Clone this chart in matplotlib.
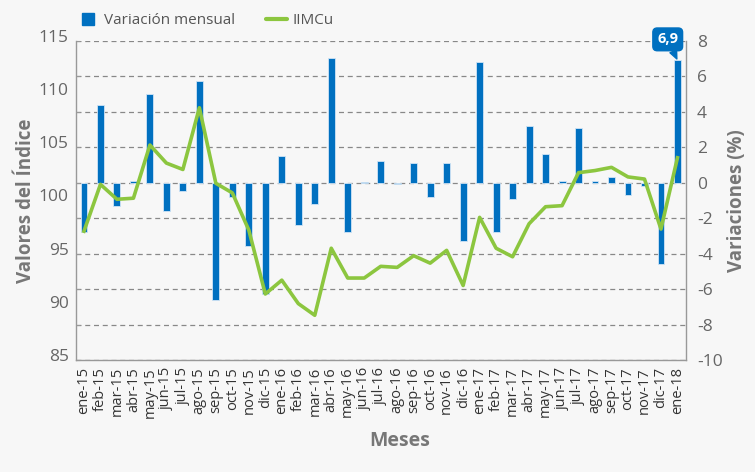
import matplotlib
matplotlib.use("Agg")
import matplotlib.pyplot as plt
import matplotlib.transforms as mtransforms
from matplotlib.lines import Line2D
import numpy as np

plt.rcParams['font.family'] = ['Open Sans', 'DejaVu Sans']

meses = ["ene-15", "feb-15", "mar-15", "abr-15", "may-15", "jun-15", "jul-15", "ago-15",
         "sep-15", "oct-15", "nov-15", "dic-15", "ene-16", "feb-16", "mar-16", "abr-16",
         "may-16", "jun-16", "jul-16", "ago-16", "sep-16", "oct-16", "nov-16", "dic-16",
         "ene-17", "feb-17", "mar-17", "abr-17", "may-17", "jun-17", "jul-17", "ago-17",
         "sep-17", "oct-17", "nov-17", "dic-17", "ene-18"]

variacion = [-2.8, 4.4, -1.3, 0.1, 5.0, -1.6, -0.5, 5.7, -6.6, -0.8, -3.6, -6.3,
             1.5, -2.4, -1.2, 7.0, -2.8, 0.05, 1.2, -0.1, 1.1, -0.8, 1.1, -3.3,
             6.8, -2.8, -0.9, 3.2, 1.6, 0.1, 3.1, 0.1, 0.3, -0.7, -0.2, -4.6, 6.9]

iimcu = [97.1, 101.5, 100.1, 100.2, 105.2, 103.5, 102.9, 108.7, 101.6, 100.7, 97.2, 91.2,
         92.5, 90.3, 89.2, 95.5, 92.7, 92.7, 93.8, 93.7, 94.8, 94.1, 95.3, 92.0,
         98.4, 95.5, 94.7, 97.8, 99.4, 99.5, 102.6, 102.8, 103.1, 102.2, 102.0, 97.3, 104.0]

left_ticks = [85, 90, 95, 100, 105, 110, 115]
right_ticks = [-10, -8, -6, -4, -2, 0, 2, 4, 6, 8]

BLUE = "#0070c0"
GREEN = "#8cc63f"
GRAY = "#666666"
BG = "#f7f7f7"

fig = plt.figure(figsize=(7.55, 4.72), dpi=100, facecolor=BG)
ax = fig.add_axes([0.1003, 0.2373, 0.8079, 0.6765])
ax.set_facecolor(BG)
ax2 = ax.twinx()
x = np.arange(len(meses))

# Bars on right scale (ax)
ax.bar(x, variacion, width=0.42, color=BLUE, edgecolor="#cfe4f6", linewidth=0.6, zorder=3)
ax.set_ylim(-10, 8)
ax.set_xlim(-0.5, len(meses) - 0.5)
ax.yaxis.tick_right()
ax.yaxis.set_label_position("right")
ax.set_yticks(right_ticks)
ax.set_yticklabels([str(t) for t in right_ticks], color=GRAY, fontsize=12.5)
ax.tick_params(axis='y', right=False, left=True, labelleft=False, labelright=True,
               direction='in', length=3, color="#999999", pad=8)
ax.set_ylabel("Variaciones (%)", fontsize=13.5, fontweight='bold', color="#777777", labelpad=3)
ax.grid(axis='y', linestyle=(0, (4, 3)), color="#888888", linewidth=0.9, zorder=1)
ax.set_axisbelow(True)

ax.set_xticks(x)
ax.set_xticklabels(meses, rotation=90, fontsize=10.5, color="#333333")
ax.tick_params(axis='x', length=0, pad=5)

for s in ["left", "right", "bottom"]:
    ax.spines[s].set_color("#999999")
    ax.spines[s].set_linewidth(1.0)
ax.spines["top"].set_visible(False)

# Line on left scale (ax2, drawn on top)
ax2.plot(x, iimcu, color=GREEN, linewidth=2.6, zorder=4)
ax2.set_ylim(85, 115)
ax2.yaxis.tick_left()
ax2.yaxis.set_label_position("left")
ax2.set_yticks(left_ticks)
ax2.set_yticklabels([str(t) for t in left_ticks], color=GRAY, fontsize=12.5)
ax2.tick_params(axis='y', left=False, right=False, labelleft=True, labelright=False,
                length=0, pad=5)
offset = mtransforms.ScaledTranslation(0, 5 / 100, fig.dpi_scale_trans)
for lab in ax2.get_yticklabels():
    lab.set_transform(lab.get_transform() + offset)
ax2.set_ylabel("Valores del Índice", fontsize=13.5, fontweight='bold', color="#777777",
               labelpad=2)
for s in ax2.spines.values():
    s.set_visible(False)

# Annotation for last bar
ax.annotate("6,9", xy=(x[-1], variacion[-1]), xytext=(-7, 15), textcoords="offset points",
            ha='center', va='center', color='white', fontsize=10.5, fontweight='bold',
            bbox=dict(boxstyle="round,pad=0.3,rounding_size=0.3", fc=BLUE, ec=BLUE),
            arrowprops=dict(arrowstyle="wedge,tail_width=0.5,shrink_factor=0.5",
                            fc=BLUE, ec=BLUE, shrinkA=0, shrinkB=1),
            zorder=6, annotation_clip=False)

fig.text(400 / 755, 1 - 441 / 472, "Meses", ha='center', va='center', fontsize=14,
         fontweight='bold', color="#777777")

handles = [Line2D([], [], linestyle='none', marker='s', markersize=8, color=BLUE),
           Line2D([], [], color=GREEN, linewidth=3, solid_capstyle='round')]
fig.legend(handles=handles, labels=["Variación mensual", "IIMCu"], loc='center left',
           bbox_to_anchor=(71 / 755, 1 - 21 / 472), ncol=2, frameon=False, fontsize=11,
           handlelength=1.4, columnspacing=2.0, handletextpad=0.35, borderaxespad=0,
           labelcolor="#555555")

fig.savefig("out.png", dpi=100, facecolor=BG)
